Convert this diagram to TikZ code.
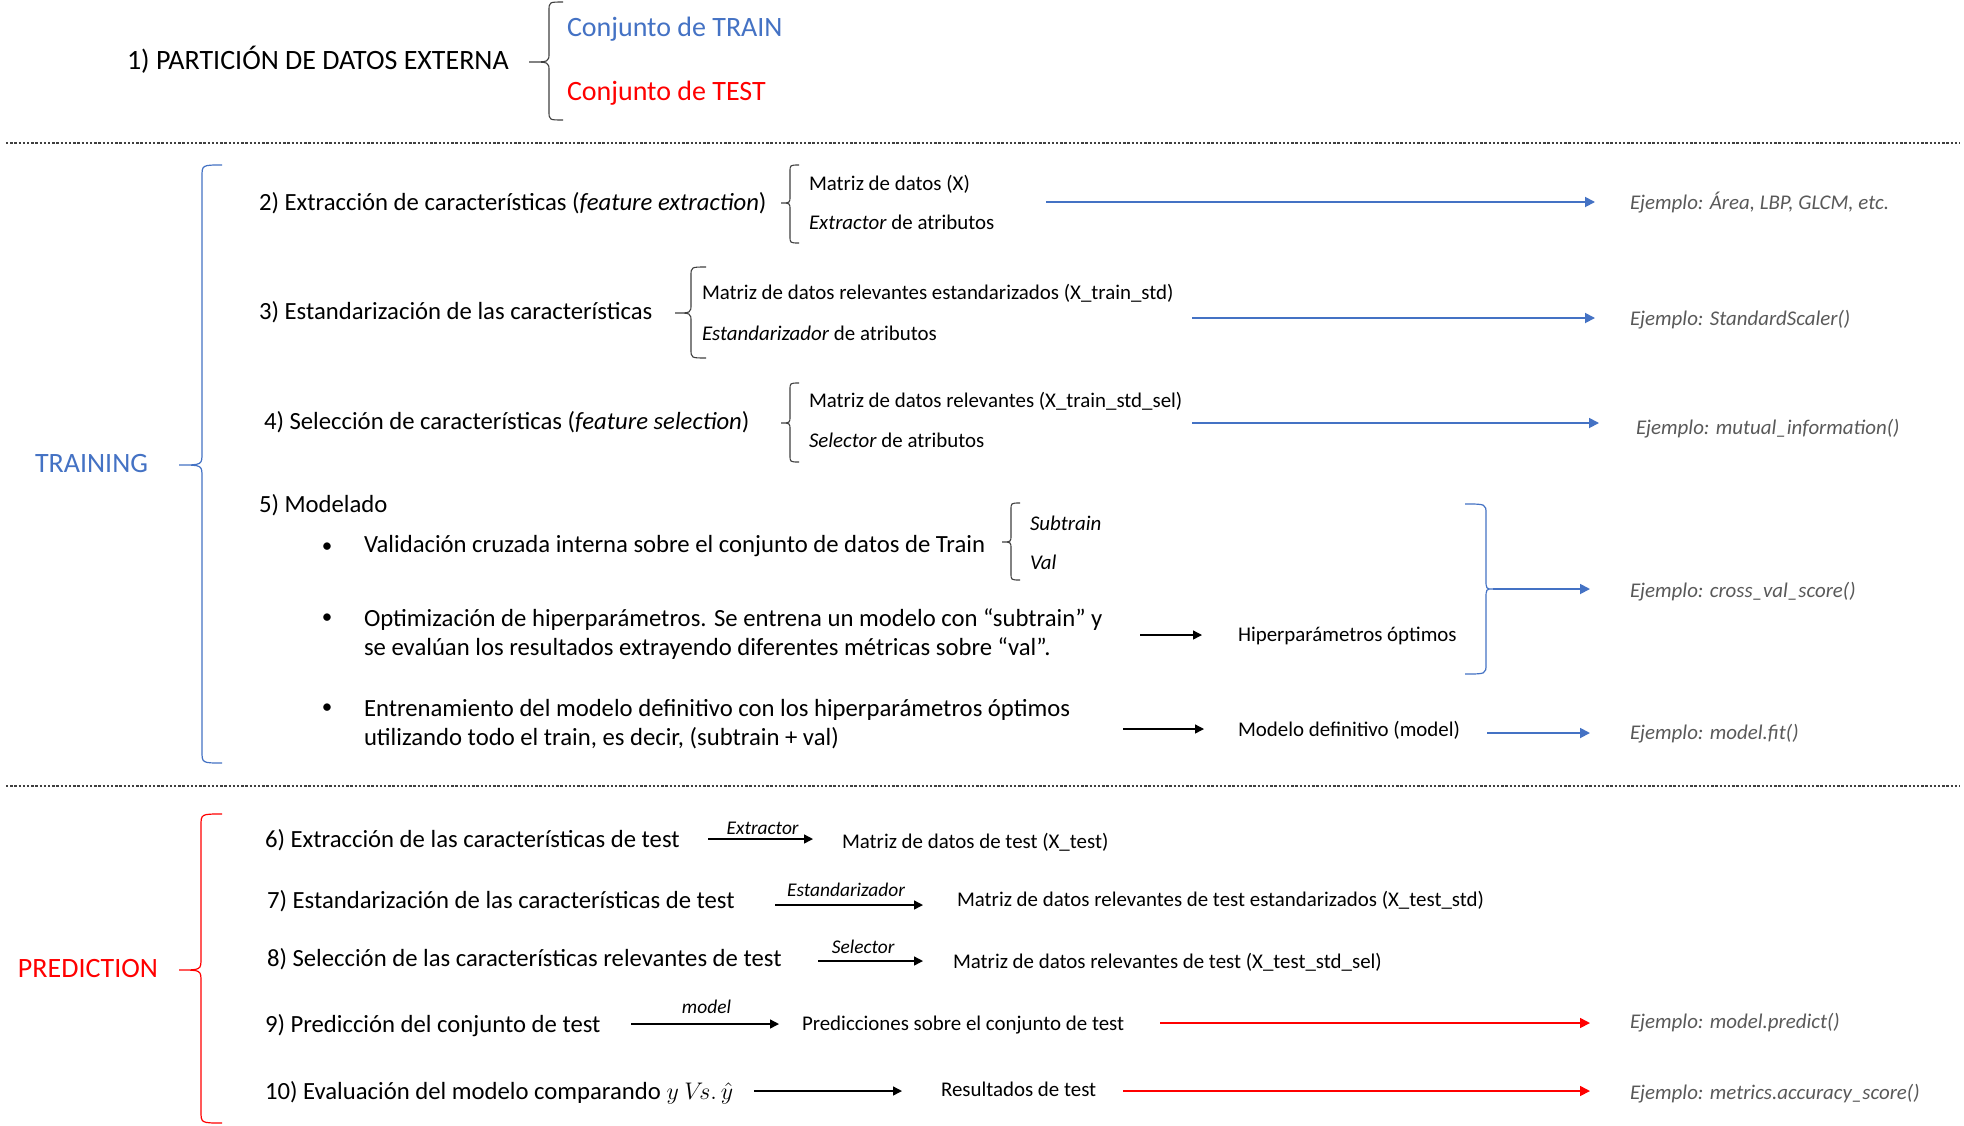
\documentclass[tikz,border=0pt]{standalone}
\usepackage{fontspec}
\setmainfont{Carlito}
\usetikzlibrary{arrows.meta}
\definecolor{tblue}{HTML}{4472C4}
\definecolor{tred}{HTML}{FF0000}
\definecolor{ejgray}{HTML}{595959}
\definecolor{dgray}{HTML}{3F3F3F}
% #1 ends x, #2 body x, #3 tip x, #4 top y, #5 tip y, #6 bottom y, #7 radius
\newcommand{\mybrace}[7]{({#1},{#4}) .. controls ({#2},{#4}) .. ({#2},{#4+#7}) -- ({#2},{#5-#7}) .. controls ({#2},{#5}) .. ({#3},{#5}) .. controls ({#2},{#5}) .. ({#2},{#5+#7}) -- ({#2},{#6-#7}) .. controls ({#2},{#6}) .. ({#1},{#6})}
\tikzset{
 txtbase/.style={inner sep=0pt, outer sep=0pt, anchor=west, yshift=-1.2pt},
 ttl/.style={txtbase, font=\fontsize{14}{16}\selectfont, text height=0.72em, text depth=0.22em},
 mtxt/.style={txtbase, font=\fontsize{12.35}{14.5}\selectfont, text height=0.72em, text depth=0.22em},
 mtxtb/.style={txtbase, font=\fontsize{12.35}{14.5}\selectfont, align=left},
 bul/.style={inner sep=0pt, outer sep=0pt, anchor=center, yshift=-1.6pt, font=\fontsize{10.5}{12}\selectfont},
 stxt/.style={txtbase, font=\fontsize{10.45}{12.5}\selectfont, text height=0.72em, text depth=0.22em},
 ejt/.style={txtbase, font=\fontsize{10.45}{12}\selectfont\itshape, text=ejgray, text height=0.72em, text depth=0.22em},
 lbl/.style={inner sep=0pt, font=\fontsize{9.7}{11}\selectfont\itshape, text height=0.72em, text depth=0.22em},
 bluearrow/.style={draw=tblue, line width=0.9pt, -{Triangle[length=5pt,width=5pt]}},
 redarrow/.style={draw=tred, line width=0.8pt, -{Triangle[length=5pt,width=5pt]}},
 blkarrow/.style={draw=black, line width=0.7pt, -{Triangle[length=4.5pt,width=4.5pt]}},
 sepline/.style={draw=dgray, line width=0.6pt, dash pattern=on 1.2pt off 0.9pt},
 kbrace/.style={draw=dgray, line width=0.55pt},
 bbrace/.style={draw=tblue, line width=0.6pt},
 rbrace/.style={draw=tred, line width=0.6pt},
}
\begin{document}
\begin{tikzpicture}[x=0.5pt,y=-0.5pt]
\useasboundingbox (0,0) rectangle (1964,1125);
\fill[white] (0,0) rectangle (1964,1125);

% ---------- 1) partition
\node[ttl] (p1) at (127,62) {1) PARTICIÓN DE DATOS EXTERNA};
\node[ttl, text=tblue] (train) at (567,29) {Conjunto de TRAIN};
\node[ttl, text=tred] (test) at (567,93) {Conjunto de TEST};
\draw[kbrace] \mybrace{563}{549}{529}{2}{62}{120}{9};

\draw[sepline] (6,143) -- (1960,143);
\draw[sepline] (6,786) -- (1960,786);

% ---------- TRAINING
\node[ttl, text=tblue] (tr) at (35,465) {TRAINING};
\draw[bbrace] \mybrace{222}{202}{179}{165}{465}{763}{12};

% row 2
\node[mtxt] (s2) at (259,203) {2) Extracción de características (\textit{feature extraction})};
\draw[kbrace] \mybrace{799}{790}{781}{165}{203}{243}{7};
\node[stxt] (m2a) at (809,183) {Matriz de datos (X)};
\node[stxt] (m2b) at (809,222) {\textit{Extractor} de atributos};
\coordinate (a2) at (1046,202);
\node[ejt] (e2) at (1630,202) {Ejemplo: Área, LBP, GLCM, etc.};
\draw[bluearrow, shorten >=17.5pt] (a2) -- (a2 -| e2.west);

% row 3
\node[mtxt] (s3) at (259,312) {3) Estandarización de las características};
\draw[kbrace] \mybrace{706}{691}{675}{267}{313}{358}{9};
\node[stxt] (m3a) at (702,292) {Matriz de datos relevantes estandarizados (X\_train\_std)};
\node[stxt] (m3b) at (702,333) {\textit{Estandarizador} de atributos};
\coordinate (a3) at (1192,318);
\node[ejt] (e3) at (1630,318) {Ejemplo: StandardScaler()};
\draw[bluearrow, shorten >=17.5pt] (a3) -- (a3 -| e3.west);

% row 4
\node[mtxt] (s4) at (264,422) {4) Selección de características (\textit{feature selection})};
\draw[kbrace] \mybrace{799}{790}{781}{383}{423}{462}{7};
\node[stxt] (m4a) at (809,400) {Matriz de datos relevantes (X\_train\_std\_sel)};
\node[stxt] (m4b) at (809,440) {\textit{Selector} de atributos};
\coordinate (a4) at (1192,423);
\node[ejt] (e4) at (1636,427) {Ejemplo: mutual\_information()};
\draw[bluearrow, shorten >=18.5pt] (a4) -- (a4 -| e4.west);

% row 5
\node[mtxt] (s5) at (259,505) {5) Modelado};
\node[bul] (b1) at (327,544) {\textbullet};
\node[mtxt] (v1) at (364,545) {Validación cruzada interna sobre el conjunto de datos de Train};
\draw[kbrace] \mybrace{1020}{1011}{1002}{503}{542}{580}{7};
\node[stxt] (sub) at (1030,523) {\textit{Subtrain}};
\node[stxt] (val) at (1030,562) {\textit{Val}};

\node[bul] (b2) at (327,615) {\textbullet};
\node[mtxtb] (v2) at (364,632) {Optimización de hiperparámetros. Se entrena un modelo con “subtrain” y\\se evalúan los resultados extrayendo diferentes métricas sobre “val”.};
\coordinate (k2) at (1140,635);
\node[stxt] (hip) at (1238,634) {Hiperparámetros óptimos};
\draw[blkarrow, shorten >=18pt] (k2) -- (k2 -| hip.west);

\draw[bbrace] \mybrace{1465}{1486}{1493}{504}{589}{674}{10};
\coordinate (cvtip) at (1493,589);
\node[ejt] (e5) at (1630,590) {Ejemplo: cross\_val\_score()};
\draw[bluearrow, shorten >=20pt] (cvtip) -- (cvtip -| e5.west);

\node[bul] (b3) at (327,705) {\textbullet};
\node[mtxtb] (v3) at (364,722) {Entrenamiento del modelo definitivo con los hiperparámetros óptimos\\utilizando todo el train, es decir, (subtrain + val)};
\coordinate (k3) at (1123,729);
\node[stxt] (mod) at (1238,729) {Modelo definitivo (model)};
\draw[blkarrow, shorten >=17pt] (k3) -- (k3 -| mod.west);
\coordinate (q3) at (1487,733);
\node[ejt] (e6) at (1630,732) {Ejemplo: model.fit()};
\draw[bluearrow, shorten >=20pt] (q3) -- (q3 -| e6.west);

% ---------- PREDICTION
\node[ttl, text=tred] (pr) at (18,970) {PREDICTION};
\draw[rbrace] \mybrace{222}{201}{179}{814}{970}{1123}{12};

% row 6
\node[mtxt] (t6) at (265,840) {6) Extracción de las características de test};
\node[stxt] (r6) at (842,841) {Matriz de datos de test (X\_test)};
\coordinate (k6) at (708,839);
\coordinate (k6e) at (813,839);
\draw[blkarrow] (k6) -- (k6e) node[lbl, pos=0.52, yshift=5pt] {Extractor};

% row 7
\node[mtxt] (t7) at (267,901) {7) Estandarización de las características de test};
\node[stxt] (r7) at (957,899) {Matriz de datos relevantes de test estandarizados (X\_test\_std)};
\coordinate (k7) at (775,905);
\coordinate (k7e) at (923,905);
\draw[blkarrow] (k7) -- (k7e) node[lbl, pos=0.48, yshift=7pt] {Estandarizador};

% row 8
\node[mtxt] (t8) at (267,959) {8) Selección de las características relevantes de test};
\node[stxt] (r8) at (953,961) {Matriz de datos relevantes de test (X\_test\_std\_sel)};
\coordinate (k8) at (818,961);
\coordinate (k8e) at (923,961);
\draw[blkarrow] (k8) -- (k8e) node[lbl, pos=0.43, yshift=6.5pt] {Selector};

% row 9
\node[mtxt] (t9) at (265,1025) {9) Predicción del conjunto de test};
\node[stxt] (r9) at (802,1023) {Predicciones sobre el conjunto de test};
\coordinate (k9) at (631,1024);
\coordinate (k9e) at (779,1024);
\draw[blkarrow] (k9) -- (k9e) node[lbl, pos=0.51, yshift=8pt] {model};
\coordinate (q9) at (1160,1023);
\node[ejt] (e9) at (1630,1021) {Ejemplo: model.predict()};
\draw[redarrow, shorten >=20pt] (q9) -- (q9 -| e9.west);

% row 10
\node[mtxt] (t10) at (265,1092) {10) Evaluación del modelo comparando $y\ V\!s.\,\hat{y}$};
\node[stxt] (r10) at (941,1089) {Resultados de test};
\coordinate (k10) at (754,1091);
\draw[blkarrow, shorten >=19.5pt] (k10) -- (k10 -| r10.west);
\coordinate (q10) at (1123,1091);
\node[ejt] (e10) at (1630,1092) {Ejemplo: metrics.accuracy\_score()};
\draw[redarrow, shorten >=20pt] (q10) -- (q10 -| e10.west);
\end{tikzpicture}
\end{document}
